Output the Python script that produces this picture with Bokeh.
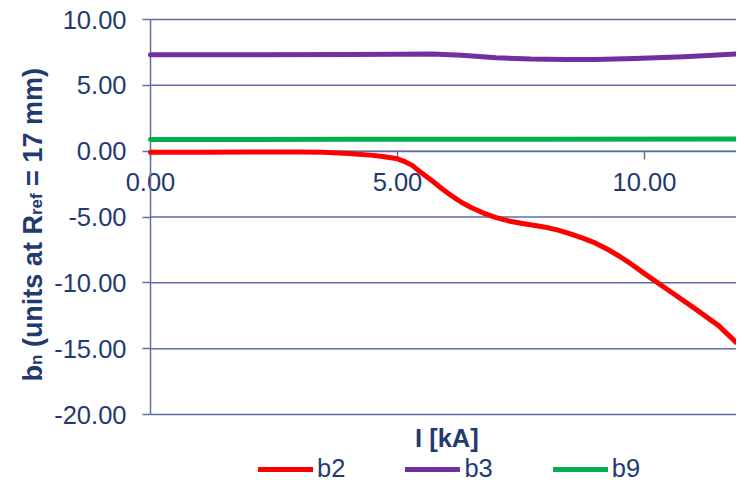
from bokeh.plotting import figure
from bokeh.models import (Range1d, LinearAxis, FixedTicker, Label, Legend, LegendItem,
                          NumeralTickFormatter)
from bokeh.embed import file_html
from bokeh.resources import INLINE

# ---------------- data ----------------
current_b2 = [0, 1, 2, 3, 3.5, 4, 4.5, 4.7, 5, 5.15, 5.3, 5.45, 5.7, 5.9, 6.1, 6.3, 6.5, 6.75, 7, 7.25,
              7.5, 7.75, 8, 8.25, 8.5, 8.75, 9, 9.25, 9.5, 9.75, 10, 10.5, 11, 11.5, 11.85]
b2 = [-0.08, -0.08, -0.07, -0.07, -0.09, -0.18, -0.32, -0.4, -0.58, -0.8, -1.08, -1.55, -2.25, -2.85,
      -3.4, -3.9, -4.3, -4.72, -5.05, -5.3, -5.48, -5.62, -5.78, -6.0, -6.28, -6.6, -6.97, -7.45,
      -8.0, -8.62, -9.3, -10.6, -11.9, -13.25, -14.5]
current_b3 = [0, 2, 4, 5, 5.7, 6.3, 7, 7.7, 8.4, 9, 9.8, 10.8, 11.85]
b3 = [7.33, 7.33, 7.34, 7.36, 7.38, 7.28, 7.1, 7.0, 6.96, 6.97, 7.04, 7.18, 7.38]
current_b9 = [0, 4, 8, 11.85]
b9 = [0.88, 0.9, 0.91, 0.93]

x_ticks = [0, 5, 10]
y_ticks = [-20, -15, -10, -5, 0, 5, 10]
series_names = ["b2", "b3", "b9"]
x_title = "I [kA]"
NB = "\u00a0"
y_title_parts = [("b", False), ("n", True), (NB + "(units" + NB + "at" + NB + "R", False),
                 ("ref", True), (NB + "=" + NB + "17" + NB + "mm)", False)]

# ---------------- style / layout ----------------
TEXT = "#1F3B70"
GRID = "#5F6DAA"
FONT = "Liberation Sans"
FS = "25.5px"

W, H = 736, 483
X0, X1, Y0, Y1 = 0, 12, -20, 10          # axis extents
LEFT_PX, TOP_PX, BOTTOM_PX = 150, 19, 414
PX_X = 49.4
PX_Y = (BOTTOM_PX - TOP_PX) / (Y1 - Y0)


def xd(px):
    return X0 + (px - LEFT_PX) / PX_X


def yd(py):
    return Y1 - (py - TOP_PX) / PX_Y


p = figure(width=W, height=H, output_backend="svg", toolbar_location=None,
           x_range=Range1d(xd(0), xd(W)), y_range=Range1d(yd(H), yd(0)),
           x_axis_location=None, y_axis_location=None, min_border=0)
p.outline_line_color = None
p.background_fill_color = "white"
p.border_fill_color = "white"
p.xgrid.grid_line_color = None
p.ygrid.grid_line_color = None

# horizontal gridlines spanning the axis extent
n = len(y_ticks)
p.segment(x0=[X0] * n, y0=y_ticks, x1=[X1] * n, y1=y_ticks, line_color=GRID, line_width=1.5)


def style_axis(ax, standoff):
    ax.axis_line_color = GRID
    ax.axis_line_width = 1.5
    ax.major_tick_line_color = GRID
    ax.major_tick_line_width = 1.5
    ax.major_tick_out = 8
    ax.major_tick_in = 0
    ax.minor_tick_line_color = None
    ax.major_label_text_font = FONT
    ax.major_label_text_font_size = FS
    ax.major_label_text_color = TEXT
    ax.major_label_standoff = standoff
    ax.level = "underlay"


yax = LinearAxis(fixed_location=X0, ticker=FixedTicker(ticks=y_ticks), bounds=(Y0, Y1),
                 formatter=NumeralTickFormatter(format="0.00"))
style_axis(yax, 16)
p.add_layout(yax, "left")

xax = LinearAxis(fixed_location=0, ticker=FixedTicker(ticks=x_ticks), bounds=(X0, X1),
                 formatter=NumeralTickFormatter(format="0.00"))
style_axis(xax, 14)
p.add_layout(xax, "below")

r2 = p.line(current_b2, b2, line_color="#FF0000", line_width=5, line_cap="round", line_join="round")
r3 = p.line(current_b3, b3, line_color="#7030A0", line_width=5, line_cap="round", line_join="round")
r9 = p.line(current_b9, b9, line_color="#00B050", line_width=5, line_cap="round", line_join="round")

legend = Legend(items=[LegendItem(label=series_names[0], renderers=[r2]),
                       LegendItem(label=series_names[1], renderers=[r3]),
                       LegendItem(label=series_names[2], renderers=[r9])],
                orientation="horizontal", location=(258, 0), padding=0, margin=0,
                spacing=60, glyph_width=55, glyph_height=20, label_standoff=4,
                label_height=20,
                border_line_color=None, background_fill_alpha=0,
                label_text_font=FONT, label_text_font_size=FS, label_text_color=TEXT)
p.add_layout(legend)

p.add_layout(Label(x=(X0 + X1) / 2, y=yd(437), text=x_title, text_align="center",
                   text_baseline="middle", text_font=FONT, text_font_size=FS,
                   text_font_style="bold", text_color=TEXT))

# y-axis title composed of pieces (with subscripts), rotated to read upward
BIG, SMALL = 27.0, 17.0
BASELINE_PX = 41.7
widths_em = [0.611, 0.611, 4.889 + 0.278, 1.278, 4.641]
pos_px = 381.0
for (txt, sub), w_em in zip(y_title_parts, widths_em):
    size = SMALL if sub else BIG
    anchor_px = BASELINE_PX - 0.3465 * size
    p.add_layout(Label(x=xd(anchor_px), y=yd(pos_px), text=txt,
                       angle=90, angle_units="deg", text_align="left",
                       text_baseline="middle", text_font=FONT,
                       text_font_size=f"{size}px", text_font_style="bold", text_color=TEXT))
    pos_px -= w_em * size

open("out.html", "w").write(file_html(p, INLINE))
